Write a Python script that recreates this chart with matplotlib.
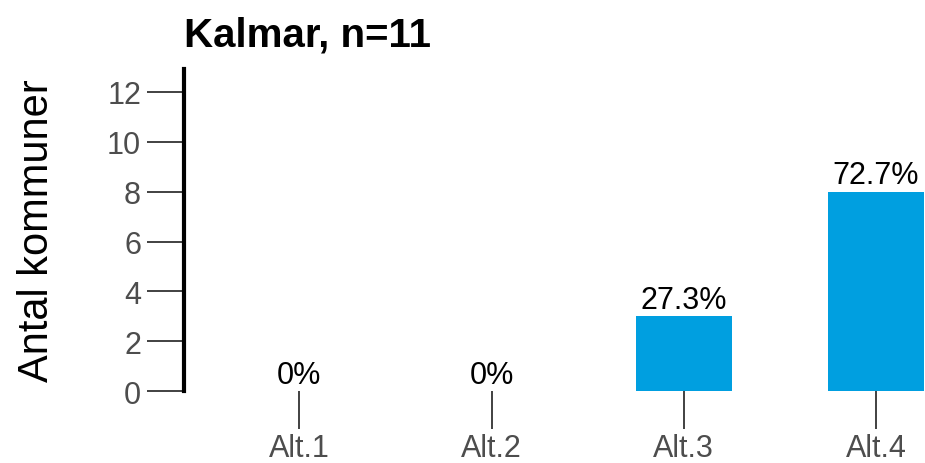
import matplotlib
matplotlib.use('Agg')
import matplotlib.pyplot as plt
import numpy as np

# data
categories = ['Alt.1', 'Alt.2', 'Alt.3', 'Alt.4']
counts = [0, 0, 3, 8]
n_total = 11
title = 'Kalmar, n=11'

plt.rcParams['font.family'] = ['Liberation Sans', 'DejaVu Sans']

fig = plt.figure(figsize=(9.25, 4.64), dpi=100)
ax = fig.add_axes([0.199, 0.155, 0.80, 0.694])

x_pos = np.arange(len(categories))
ax.bar(x_pos, counts, width=0.5, color='#009FE0')

# percentage labels above bars
for xi, c in zip(x_pos, counts):
    pct = c * 100 / n_total
    lbl = '0%' if c == 0 else '%.1f%%' % pct
    ax.annotate(lbl, (xi, c), xytext=(0, 1), textcoords='offset points',
                ha='center', va='bottom', fontsize=22, color='black')

ax.set_xlim(-0.6, 3.25)
ax.set_ylim(0, 12.92)
ax.set_yticks(np.arange(0, 13, 2))
ax.set_xticks(x_pos)
ax.set_xticklabels(categories)

for s in ['top', 'right', 'bottom']:
    ax.spines[s].set_visible(False)
ax.spines['left'].set_linewidth(3)
ax.spines['left'].set_color('black')

ax.tick_params(axis='y', length=27, width=1.3, color='#333333', labelcolor='#4D4D4D',
               labelsize=22, pad=4)
ax.tick_params(axis='x', length=27, width=1.3, color='#333333', labelcolor='#4D4D4D',
               labelsize=22, pad=3)

ax.set_ylabel('Antal kommuner', fontsize=30, labelpad=36)
ax.set_title(title, loc='left', fontsize=29, fontweight='bold', pad=17)

fig.savefig('out.png', dpi=100)
